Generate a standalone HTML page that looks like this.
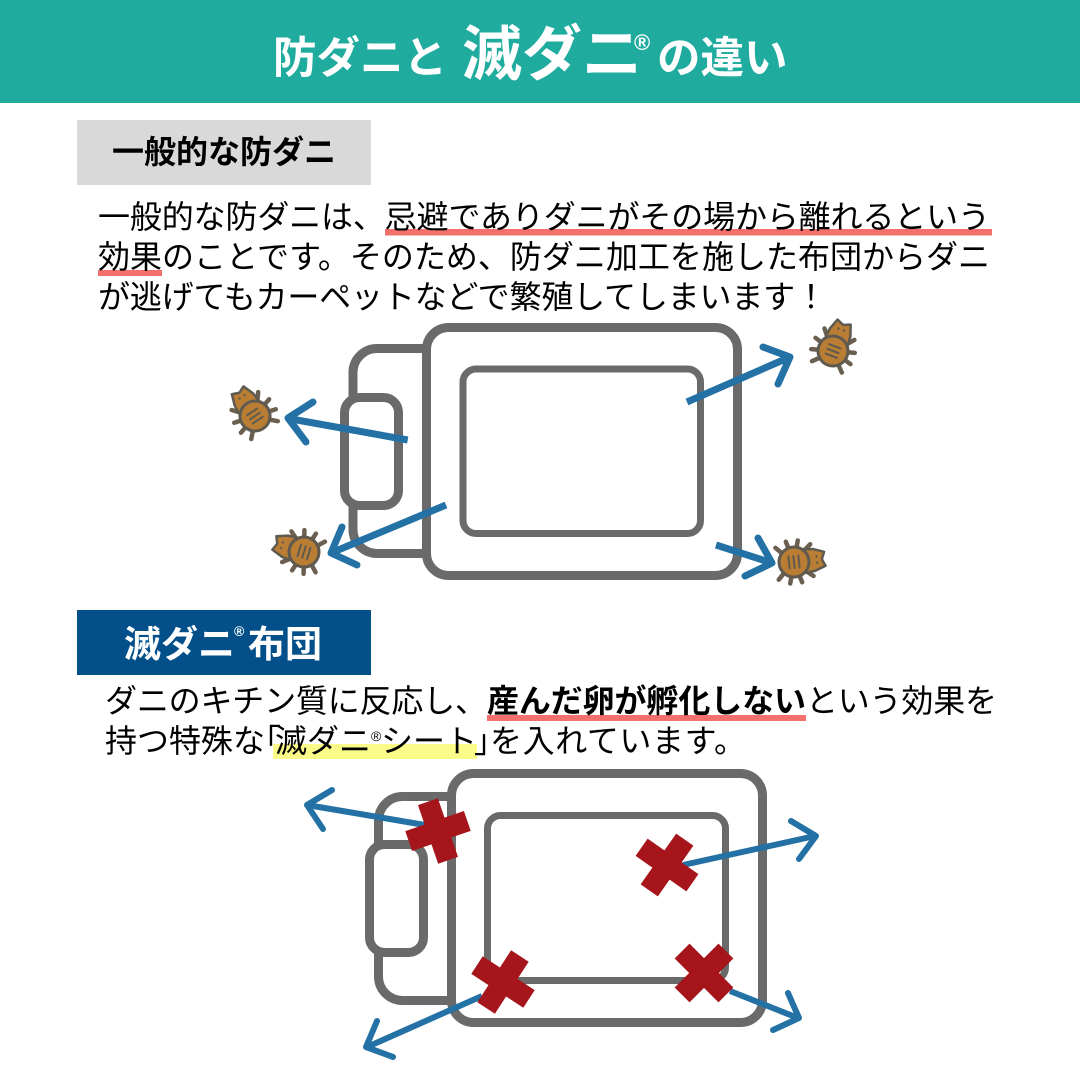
<!DOCTYPE html>
<html lang="ja"><head><meta charset="utf-8"><title>防ダニと滅ダニの違い</title>
<style>
html,body{margin:0;padding:0;background:#fff}
svg{display:block}
text{font-family:"Liberation Sans","Noto Sans CJK JP",sans-serif;white-space:pre}
.t{font-size:32px;fill:#000;font-weight:400}
.b{font-weight:700}
.w{fill:#fff;font-weight:700}
.g{fill:none;stroke:#6a6a6a}
.a{fill:none;stroke:#2371a5;stroke-width:7;stroke-linecap:round;stroke-linejoin:round}
.a0{stroke-linecap:butt}
.x{fill:#a6151b}
</style></head><body>
<svg width="1080" height="1080" viewBox="0 0 1080 1080" xmlns="http://www.w3.org/2000/svg">
<defs>
<g id="mite">
<path fill="none" stroke="#6b5f50" stroke-width="4.5" stroke-linecap="round" d="M-12,-11L-18,-16M-4,-14L-6,-21M4,-14L6,-21M12,-11L17,-16M-12,11L-18,16M-4,14L-6,21M4,14L6,21M12,11L17,16"/>
<path d="M-8,-12L-20,-11L-31,-7L-28,0L-31,7L-20,11L-8,12Z" fill="#b97d34" stroke="#5f5a50" stroke-width="2.5" stroke-linejoin="round"/>
<circle cx="-23" cy="-3" r="1.2" fill="#5f5a50"/><circle cx="-23" cy="3" r="1.2" fill="#5f5a50"/>
<ellipse cx="0" cy="0" rx="15" ry="15" fill="#b97d34" stroke="#5f5a50" stroke-width="3"/>
<path fill="none" stroke="#5f5a50" stroke-linecap="round" stroke-width="2" d="M-5,-6L-5,6M0,-6L0,6M5,-6L5,6"/>
</g>
</defs>

<rect x="0" y="0" width="1080" height="103" fill="#20ab9f"/>
<text class="w" x="273" y="73" font-size="43.5">防ダニと</text>
<text class="w" x="462" y="75" font-size="60">滅ダニ</text>
<text class="w" x="634" y="50" font-size="22">®</text>
<text class="w" x="657" y="73" font-size="43.5">の違い</text>

<rect x="77" y="120" width="294" height="65" fill="#d9d9d9"/>
<text class="b" x="112" y="163" font-size="32" fill="#000">一般的な防ダニ</text>

<rect x="385" y="229" width="607" height="6.5" fill="#f4706c"/>
<rect x="98" y="270" width="64" height="6" fill="#f4706c"/>
<text class="t" x="98" y="228" textLength="892">一般的な防ダニは、忌避でありダニがその場から離れるという</text>
<text class="t" x="98" y="268" textLength="892">効果のことです。そのため、防ダニ加工を施した布団からダニ</text>
<text class="t" x="98" y="308" textLength="729">が逃げてもカーペットなどで繁殖してしまいます！</text>

<!-- diagram 1 -->
<path class="g" stroke-width="9" d="M424,348.5H377a24,24 0 0 0 -24,24V529.5a24,24 0 0 0 24,24H424"/>
<rect class="g" stroke-width="9" x="426.5" y="327.5" width="311" height="248" rx="22"/>
<rect class="g" stroke-width="7" x="463" y="369" width="237.5" height="164.5" rx="13"/>
<rect stroke-width="9" x="344.5" y="397.5" width="54" height="108" rx="15" fill="#fff" stroke="#6a6a6a"/>

<path class="a a0" d="M407.7,440L288.5,418.5"/><path class="a" d="M313,402L288,418L306,442"/>
<path class="a a0" d="M446,505L331,553"/><path class="a" d="M342,527L331,553L357,565"/>
<path class="a a0" d="M687,402L790,357"/><path class="a" d="M763,347L790,357L778,384"/>
<path class="a a0" d="M716,545L772,563"/><path class="a" d="M758,538L772,563L745,576"/>

<use href="#mite" transform="translate(255,416) rotate(56)"/>
<use href="#mite" transform="translate(304,552) rotate(17)"/>
<use href="#mite" transform="translate(833,351) rotate(111)"/>
<use href="#mite" transform="translate(794,562) rotate(174)"/>

<rect x="77" y="610" width="294" height="65" fill="#024f8a"/>
<text class="w" x="124" y="657" font-size="37">滅ダニ</text>
<text class="w" x="234" y="636" font-size="14">®</text>
<text class="w" x="248" y="657" font-size="37">布団</text>

<rect x="487" y="715" width="319" height="6" fill="#f4706c"/>
<rect x="273" y="744" width="204" height="15" fill="#fbfb8a"/>
<text class="t" x="105" y="712" textLength="382">ダニのキチン質に反応し、</text>
<text class="t b" x="487" y="712" textLength="319">産んだ卵が孵化しない</text>
<text class="t" x="806" y="712" textLength="191">という効果を</text>
<text class="t" x="105" y="752" textLength="160">持つ特殊な</text>
<text class="t" x="249" y="752">「</text>
<text class="t" x="275" y="752" textLength="96">滅ダニ</text>
<text class="t" x="371" y="741" style="font-size:14px">®</text>
<text class="t" x="381" y="752" textLength="96">シート</text>
<text class="t" x="474" y="752">」</text>
<text class="t" x="490" y="752" textLength="256">を入れています。</text>

<!-- diagram 2 -->
<path class="g" stroke-width="9" d="M449,796.5H402.5a24,24 0 0 0 -24,24V976.5a24,24 0 0 0 24,24H449"/>
<rect class="g" stroke-width="9" x="451.5" y="773.5" width="311" height="249" rx="22"/>
<rect class="g" stroke-width="7" x="487.5" y="815.5" width="238" height="165" rx="13"/>
<rect stroke-width="9" x="369.5" y="844.5" width="54" height="108" rx="15" fill="#fff" stroke="#6a6a6a"/>

<path class="a a0" style="stroke-width:6" d="M425,825L307,805"/><path class="a" style="stroke-width:6" d="M332,790L307,805L323,829"/>
<path class="a a0" style="stroke-width:6" d="M482,996L367,1047"/><path class="a" style="stroke-width:6" d="M377,1021L366,1047L393,1057"/>
<path class="a a0" style="stroke-width:6" d="M683,865L815,836"/><path class="a" style="stroke-width:6" d="M791,821L816,836L799,859"/>
<path class="a a0" style="stroke-width:6" d="M730,991L798,1018"/><path class="a" style="stroke-width:6" d="M788,993L799,1018L773,1030"/>

<g class="x">
<path transform="translate(438,831) rotate(-19)" d="M-10.5,-31H10.5V-10.5H31V10.5H10.5V31H-10.5V10.5H-31V-10.5H-10.5Z"/>
<path transform="translate(503,982) rotate(33)" d="M-10.5,-31H10.5V-10.5H31V10.5H10.5V31H-10.5V10.5H-31V-10.5H-10.5Z"/>
<path transform="translate(667,865) rotate(35)" d="M-10.5,-31H10.5V-10.5H31V10.5H10.5V31H-10.5V10.5H-31V-10.5H-10.5Z"/>
<path transform="translate(704,973) rotate(45)" d="M-10.5,-31H10.5V-10.5H31V10.5H10.5V31H-10.5V10.5H-31V-10.5H-10.5Z"/>
</g>
</svg>
</body></html>
